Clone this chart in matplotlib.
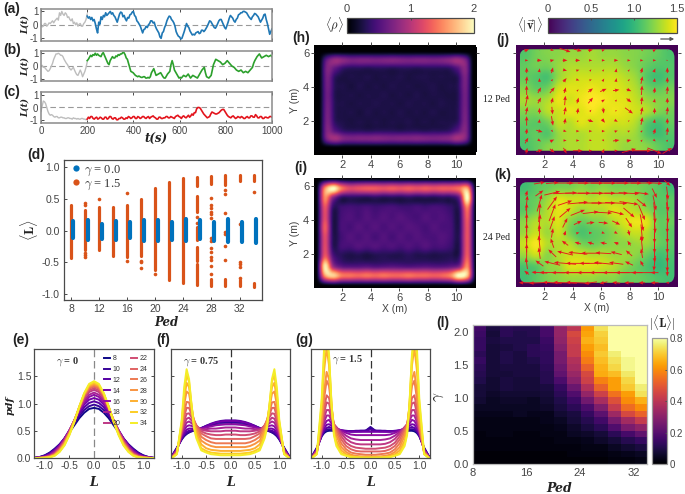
import numpy as np
import matplotlib
matplotlib.use("Agg")
import matplotlib.pyplot as plt
from matplotlib.lines import Line2D
from matplotlib.patches import FancyBboxPatch, FancyArrowPatch

plt.rcParams["font.family"] = ["Liberation Sans", "DejaVu Sans"]
plt.rcParams["mathtext.fontset"] = "cm"
plt.rcParams["axes.linewidth"] = 0.9

SERIF = "Liberation Serif"
TXT = "#444444"
EDGE = "#4a4a4a"

# time series, one value every 5 s. gray part is t<200, colored part t>=200
gray_a = [0, -.15, -.1, .1, .1, -.1, 0, .15, .1, .2, .3, .15, .3, .4, .5, .35, .9, .7, 1.0, .8, .7, .9, .8, .55, .6,
          .4, .3, .45, .1, .2, 0, .15, -.1, .05, .1, -.1, -.1, .1, .2, .4, .8]
color_a = [.65, .5, .6, .4, .55, .3, .4, .1, -.3, -.6, .2, .05, .6, .4, .7, .6, .9, .7, .8, .9, 1.0, .8, .9, .7, .6,
           .4, .2, .5, .8, .95, .9, .6, .7, .45, .3, .55, .5, .75, .8, .95, 1.0, .7, .6, .3, .2, .05, -.1, -.35, -.6,
           -.35, -.3, -.1, -.2, 0, .1, .3, .3, .15, .2, -.1, -.3, -.45, -.6, -.9, -1.0, -.6, -.5, -.2, 0, .3, .5, .65,
           .6, .4, .3, .15, -.1, -.5, -.7, -.85, -.9, -1.05, -1.0, -.75, -.5, -.2, .1, -.1, -.2, -.45, -.6, -.75, -.7,
           -.75, -.6, -.55, -.5, -.65, -.6, -.4, -.4, -.5, -.4, -.25, -.1, .1, .3, .25, .1, -.05, -.2, -.25, -.1, .1,
           .3, .4, .4, .2, 0, -.2, -.3, -.05, .2, .5, .7, .6, .5, .3, .2, .4, .5, .75, .8, .9, .9, 1.0, 1.0, .95, .9,
           .75, .6, .5, .4, .6, .7, .85, .8, .7, .6, .4, .2, .35, .5, .75, .8, .4, .1, -.3, -.7, -.5, -.3]
gray_b = [0, .05, -.1, -.1, -.2, -.3, -.4, -.35, -.2, 0, .2, .5, .7, .9, .9, .95, .9, .8, .8, .7, .5, .35, .2, .1, -.1,
          -.2, -.3, -.2, -.1, -.3, -.5, -.65, -.7, -.5, -.3, -.5, -.8, -.6, -.4, -.1, .3]
color_b = [.4, .5, .65, .8, .7, .85, .8, .95, .8, .9, .8, .75, .7, .9, 1.0, .8, .6, .4, .2, .1, .4, .55, .7, .6, .6, .75,
           .7, .85, .8, .9, .9, 1.0, 1.0, .85, .6, .5, .2, -.1, -.4, -.45, -.5, -.6, -.7, -.75, -.8, -.75, -.8, -.85,
           -.85, -.8, -.8, -.9, -.9, -.85, -.9, -.8, -.5, -.35, -.2, -.45, -.7, -.65, -.6, -.55, -.5, -.65, -.8, -.9,
           -.9, -.75, -.6, -.5, -.4, .1, .4, .1, -.3, -.45, -.6, -.75, -.9, -.85, -.9, -.8, -.7, -.75, -.8, -.7, -.6,
           -.75, -.9, -.8, -.7, -.75, -.8, -.85, -.9, -.75, -.6, -.45, -.3, -.2, -.1, -.5, -.8, -.85, -.9, -.8, -.7,
           -.3, .1, .3, .5, .45, .4, .35, .3, .2, .1, .15, .2, .3, .4, .3, .2, .1, 0, -.05, -.1, -.2, -.3, -.35, -.4,
           -.35, -.3, -.4, -.5, -.45, -.4, -.45, -.5, -.4, -.3, -.2, -.1, .2, .4, .55, .7, .8, .9, .75, .6, .65, .7,
           .75, .8, .75, .7, .75, .8, .7]
gray_c = [-.3, .1, .5, .45, .3, 0, -.3, -.5, -.6, -.55, -.6, -.7, -.75, -.7, -.7, -.8, -.8, -.75, -.75, -.8, -.8, -.85,
          -.85, -.8, -.8, -.85, -.85, -.9, -.8, -.85, -.85, -.9, -.85, -.9, -.9, -.85, -.85, -.9, -.9, -.95, -.9]
color_c = [-.9, -.75, -.85, -.7, -.7, -.85, -.9, -.8, -.75, -.9, -.85, -.75, -.8, -.9, -.9, -.75, -.75, -.9, -.85, -.7,
           -.7, -.85, -.9, -.8, -.8, -.95, -.95, -.85, -.85, -.75, -.8, -.9, -.9, -.8, -.85, -.7, -.75, -.85, -.8, -.7,
           -.7, -.85, -.85, -.7, -.75, -.85, -.8, -.7, -.7, -.8, -.85, -.75, -.7, -.85, -.75, -.7, -.65, -.75, -.8, -.9,
           -.9, -.75, -.75, -.85, -.85, -.8, -.8, -.7, -.7, -.8, -.8, -.7, -.75, -.8, -.85, -.7, -.65, -.6, -.7, -.75,
           -.85, -.7, -.65, -.75, -.8, -.7, -.6, -.75, -.65, -.5,
           -.6, -.4, -.4, -.1, 0, 0, -.05, -.2, -.35, -.5, -.6, -.7, -.8, -.75, -.7, -.5, -.35, -.4, -.45, -.5, -.5,
           -.45, -.4, -.3, -.2, -.15, -.15, -.3, -.45, -.6, -.7, -.75, -.8, -.7, -.65, -.75, -.85, -.8, -.7, -.75, -.8,
           -.7, -.75, -.85, -.85, -.75, -.7, -.8, -.8, -.65, -.65, -.75, -.75, -.55, -.65, -.8, -.8, -.7, -.7, -.85,
           -.85, -.75, -.75, -.8, -.8, -.7, -.7, -.75]
series_colors = ["#1f77b4", "#2ca02c", "#e3141c"]

# panel d
peds = [8, 10, 12, 14, 16, 18, 20, 22, 24, 26, 28, 30, 32, 34]
blue_lo = [-.11, -.14, -.13, -.14, -.12, -.16, -.17, -.15, -.16, -.13, -.17, -.18, -.18, -.19]
blue_hi = [.15, .17, .11, .15, .13, .17, .17, .14, .18, .16, .14, .18, .13, .19]
orange_ped = [8, 10, 12, 14, 16, 18, 20, 22, 24, 26, 26, 26, 26, 26, 28, 28, 30, 30, 32, 32, 34, 34]
orange_lo = [-.43, -.3, -.3, -.4, -.42, -.4, -.62, -.78, -.82, -.85, -.48, -.15, .3, .7, .74, -.87, .72, -.87, .78, -.87, .78, -.88]
orange_hi = [.4, .32, .37, .37, .4, .5, .67, .76, .82, -.52, -.25, .05, .55, .85, .86, -.76, .87, -.76, .87, -.78, .88, -.82]
dots_ped = [10, 10, 10, 10, 10, 12, 16, 16, 18, 18, 18, 20, 26, 26,
            28, 28, 28, 28, 28, 28, 28, 28, 28, 28, 28, 28, 28, 28,
            30, 30, 30, 30, 30, 30, 30, 32, 32, 32, 32, 32, 34]
dots_val = [-.35, -.38, -.42, .41, .43, .5, .59, -.48, -.47, -.5, -.58, -.68, .22, .12,
            .52, .4, .35, .3, .26, .2, -.12, -.16, -.27, -.33, -.41, -.46, -.55, -.68,
            .64, .58, .28, -.02, -.06, -.24, -.46, .11, -.5, -.53, -.57, -.74, .61]

# pdf curves, right half only, panels e f g are symmetric
grid_e = [0, .1, .2, .3, .4, .5, .6, .7, .8, .9, 1.0, 1.1, 1.2]
pdf_e = [
    [.92, .90, .83, .73, .60, .47, .35, .25, .17, .10, .05, .02, .005],
    [.98, .95, .88, .77, .63, .49, .36, .25, .16, .09, .045, .018, .004],
    [1.04, 1.01, .93, .81, .66, .50, .36, .24, .15, .08, .04, .015, .003],
    [1.10, 1.07, .98, .84, .68, .51, .36, .23, .14, .07, .03, .012, .002],
    [1.16, 1.12, 1.02, .87, .69, .51, .35, .22, .12, .06, .025, .008, .002],
    [1.20, 1.16, 1.05, .88, .69, .50, .34, .20, .11, .05, .02, .006, .001],
    [1.25, 1.21, 1.09, .90, .69, .49, .32, .19, .09, .04, .015, .004, .001],
    [1.28, 1.24, 1.11, .91, .69, .48, .30, .17, .08, .035, .012, .003, .001],
    [1.31, 1.27, 1.13, .92, .69, .47, .29, .16, .07, .03, .01, .002, 0],
    [1.33, 1.29, 1.15, .93, .68, .46, .28, .15, .065, .025, .008, .002, 0],
    [1.35, 1.31, 1.16, .93, .68, .45, .27, .14, .06, .02, .006, .001, 0],
    [1.37, 1.33, 1.17, .94, .67, .44, .25, .13, .05, .017, .005, .001, 0],
    [1.39, 1.34, 1.18, .94, .67, .43, .24, .12, .045, .015, .004, .001, 0],
    [1.41, 1.36, 1.19, .94, .66, .42, .23, .11, .04, .012, .003, 0, 0],
]
grid_fg = [0, .1, .2, .3, .4, .5, .6, .7, .75, .8, .85, .9, .95, 1.0, 1.1, 1.2]
pdf_f = [
    [.62, .62, .62, .61, .60, .58, .55, .52, .50, .49, .47, .44, .40, .34, .19, .04],
    [.66, .66, .65, .64, .62, .59, .55, .52, .50, .49, .47, .45, .41, .35, .18, .035],
    [.69, .69, .68, .66, .63, .59, .54, .52, .52, .51, .50, .48, .43, .36, .17, .03],
    [.68, .68, .67, .65, .62, .58, .54, .53, .54, .54, .54, .52, .46, .38, .16, .025],
    [.62, .62, .61, .60, .58, .56, .54, .55, .57, .59, .60, .58, .51, .41, .15, .02],
    [.56, .56, .55, .54, .54, .53, .53, .57, .60, .64, .67, .65, .56, .43, .14, .015],
    [.50, .50, .49, .49, .49, .50, .52, .59, .64, .69, .74, .72, .62, .46, .13, .01],
    [.43, .43, .42, .42, .43, .45, .49, .60, .67, .75, .82, .81, .68, .49, .12, .01],
    [.35, .35, .35, .35, .36, .40, .45, .60, .70, .80, .92, .92, .76, .52, .11, .008],
    [.27, .27, .27, .27, .29, .33, .39, .57, .70, .85, 1.02, 1.03, .84, .54, .10, .006],
    [.20, .20, .20, .20, .22, .26, .32, .52, .68, .92, 1.18, 1.22, .98, .58, .09, .005],
    [.13, .13, .13, .14, .15, .18, .25, .46, .65, .96, 1.30, 1.38, 1.08, .62, .08, .004],
    [.08, .08, .08, .09, .10, .13, .18, .40, .60, .98, 1.40, 1.52, 1.18, .66, .07, .003],
    [.05, .05, .05, .06, .07, .10, .14, .36, .55, .98, 1.45, 1.63, 1.30, .70, .07, .002],
]
pdf_g = [
    [.55, .50, .49, .49, .49, .49, .50, .50, .50, .50, .50, .49, .46, .40, .19, .03],
    [.57, .50, .50, .49, .49, .49, .50, .51, .51, .52, .53, .52, .48, .41, .18, .025],
    [.52, .50, .50, .50, .49, .50, .51, .52, .53, .55, .57, .55, .50, .42, .17, .02],
    [.48, .48, .48, .48, .48, .49, .51, .54, .56, .59, .62, .61, .54, .44, .16, .015],
    [.42, .42, .42, .42, .43, .46, .50, .55, .58, .63, .70, .68, .60, .46, .15, .012],
    [.33, .33, .33, .34, .36, .41, .48, .56, .60, .69, .78, .78, .66, .49, .14, .01],
    [.25, .25, .25, .26, .29, .35, .45, .57, .62, .74, .88, .88, .74, .51, .13, .008],
    [.17, .17, .18, .19, .22, .28, .40, .55, .62, .80, 1.00, 1.02, .83, .54, .12, .006],
    [.12, .12, .12, .13, .16, .22, .34, .52, .62, .85, 1.10, 1.15, .92, .58, .11, .005],
    [.06, .06, .07, .08, .10, .16, .27, .47, .60, .92, 1.32, 1.42, 1.10, .65, .10, .004],
    [.03, .03, .03, .04, .06, .11, .20, .41, .56, .95, 1.45, 1.58, 1.22, .70, .09, .003],
    [.015, .015, .02, .02, .04, .07, .14, .32, .50, .98, 1.70, 2.02, 1.62, .88, .08, .002],
    [.008, .008, .01, .015, .02, .05, .09, .26, .45, 1.0, 1.85, 2.2, 1.90, 1.0, .07, .002],
    [.005, .005, .006, .01, .015, .04, .07, .22, .42, 1.0, 1.9, 2.3, 2.05, 1.1, .07, .001],
]

# panel l, rows from gamma 2.0 down to 0.0, columns Ped 8..32
heat_l = [
    [.16, .09, .12, .11, .11, .17, .32, .40, .62, .74, .80, .80, .80],
    [.15, .08, .12, .10, .11, .17, .32, .46, .64, .71, .80, .80, .80],
    [.14, .09, .10, .10, .10, .15, .31, .44, .66, .70, .80, .80, .80],
    [.14, .08, .09, .10, .12, .14, .29, .42, .63, .68, .80, .80, .80],
    [.12, .08, .10, .09, .12, .13, .26, .42, .60, .70, .76, .80, .80],
    [.14, .08, .10, .09, .10, .13, .26, .38, .57, .68, .74, .78, .80],
    [.12, .08, .09, .09, .09, .12, .24, .36, .52, .66, .72, .78, .80],
    [.11, .08, .08, .09, .09, .11, .22, .33, .46, .65, .68, .75, .80],
    [.10, .07, .09, .08, .08, .11, .18, .30, .44, .58, .63, .72, .80],
    [.08, .07, .09, .08, .08, .09, .14, .24, .38, .52, .63, .70, .76],
    [.08, .06, .07, .07, .07, .08, .12, .19, .32, .44, .55, .63, .74],
    [.07, .05, .06, .06, .05, .07, .10, .15, .25, .36, .48, .60, .66],
    [.05, .05, .05, .05, .05, .06, .09, .12, .18, .28, .42, .54, .60],
    [.04, .04, .04, .05, .04, .04, .07, .09, .14, .21, .34, .46, .52],
    [.03, .03, .03, .03, .03, .04, .05, .08, .11, .16, .26, .35, .42],
    [.03, .03, .03, .03, .03, .03, .04, .06, .09, .12, .19, .27, .31],
    [.02, .03, .03, .02, .02, .03, .03, .05, .06, .08, .12, .17, .22],
    [.02, .02, .02, .02, .02, .02, .03, .03, .04, .06, .08, .11, .14],
    [.02, .02, .02, .02, .02, .02, .02, .02, .03, .03, .05, .07, .09],
    [.01, .01, .01, .01, .01, .01, .01, .02, .02, .02, .03, .04, .05],
    [.01, .01, .01, .01, .01, .01, .01, .01, .01, .01, .02, .02, .03],
]

# panels h i, density, read on a coarse grid (smoothed by imshow)
rho_h = [
    [0, .01, .02, .02, .02, .02, .02, .02, .02, .02, .02, .02, .02, .02, .02, .02, .02, .02, .01, 0],
    [.02, .62, .85, .78, .70, .72, .72, .70, .72, .74, .72, .70, .72, .72, .70, .72, .78, .88, .70, .02],
    [.02, .72, .55, .35, .30, .30, .28, .30, .30, .28, .30, .30, .28, .30, .30, .30, .32, .50, .76, .02],
    [.02, .68, .32, .24, .26, .25, .27, .24, .26, .25, .27, .24, .26, .27, .25, .26, .25, .30, .70, .02],
    [.02, .66, .30, .26, .23, .27, .24, .26, .24, .27, .25, .26, .24, .25, .27, .24, .26, .30, .68, .02],
    [.02, .64, .28, .25, .26, .24, .26, .25, .27, .24, .26, .24, .27, .24, .26, .25, .24, .28, .66, .02],
    [.02, .66, .30, .26, .24, .26, .25, .27, .25, .26, .24, .27, .25, .26, .24, .27, .25, .29, .66, .02],
    [.02, .68, .30, .25, .26, .23, .27, .24, .26, .24, .27, .24, .26, .24, .27, .24, .25, .30, .68, .02],
    [.02, .70, .33, .26, .24, .26, .24, .26, .24, .26, .25, .27, .24, .26, .24, .26, .26, .32, .70, .02],
    [.02, .74, .50, .34, .30, .30, .28, .30, .30, .30, .28, .30, .30, .28, .30, .30, .34, .52, .74, .02],
    [.02, .72, .90, .74, .70, .72, .72, .74, .72, .70, .72, .72, .74, .72, .70, .72, .76, .90, .72, .02],
    [0, .02, .04, .03, .03, .03, .03, .03, .03, .03, .03, .03, .03, .03, .03, .03, .03, .04, .02, 0],
]
rho_i = [
    [0, .02, .04, .03, .03, .03, .03, .03, .03, .03, .03, .03, .03, .03, .03, .03, .03, .04, .02, 0],
    [.05, 1.5, 2.0, 1.45, 1.2, 1.25, 1.3, 1.3, 1.25, 1.3, 1.25, 1.3, 1.25, 1.3, 1.25, 1.3, 1.3, 1.4, 1.6, .05],
    [.05, 1.5, .75, .32, .32, .3, .28, .32, .28, .3, .28, .32, .28, .3, .28, .32, .32, .6, 2.0, .05],
    [.05, 1.25, .35, .42, .45, .43, .47, .42, .45, .47, .43, .42, .46, .43, .47, .45, .38, .35, 1.45, .05],
    [.05, 1.2, .28, .45, .5, .45, .52, .47, .52, .48, .53, .48, .45, .52, .47, .5, .43, .3, 1.3, .05],
    [.05, 1.3, .28, .47, .45, .53, .48, .53, .47, .52, .48, .53, .5, .45, .52, .47, .45, .3, 1.25, .05],
    [.05, 1.2, .3, .43, .52, .47, .52, .45, .52, .45, .52, .47, .52, .48, .47, .52, .45, .32, 1.25, .05],
    [.05, 1.2, .32, .45, .45, .52, .48, .52, .47, .5, .45, .5, .45, .52, .45, .47, .4, .3, 1.25, .05],
    [.05, 1.3, .5, .32, .26, .28, .24, .28, .3, .28, .28, .32, .28, .28, .26, .28, .3, .34, 1.3, .05],
    [.05, 1.9, .85, .55, .5, .5, .52, .48, .5, .52, .5, .48, .5, .52, .5, .5, .55, .7, 1.5, .05],
    [.05, 1.55, 1.8, 1.45, 1.4, 1.35, 1.4, 1.35, 1.4, 1.35, 1.35, 1.4, 1.35, 1.35, 1.3, 1.35, 1.5, 2.0, 1.7, .05],
    [0, .03, .06, .05, .05, .05, .05, .05, .05, .05, .05, .05, .05, .05, .05, .05, .05, .06, .03, 0],
]

# panels j k, mean speed on a coarse grid
speed_j = [
    [1.1, 1.18, 1.22, 1.24, 1.27, 1.27, 1.3, 1.27, 1.27, 1.24, 1.22, 1.18, 1.14, 1.08],
    [1.14, 1.18, 1.18, 1.27, 1.32, 1.32, 1.32, 1.32, 1.32, 1.27, 1.22, 1.14, 1.1, 1.1],
    [1.14, 1.1, 1.07, 1.27, 1.36, 1.39, 1.39, 1.39, 1.39, 1.34, 1.27, 1.1, 1.04, 1.1],
    [1.22, 1.14, 1.18, 1.39, 1.43, 1.43, 1.46, 1.43, 1.43, 1.39, 1.32, 1.18, 1.14, 1.18],
    [1.3, 1.27, 1.32, 1.45, 1.4, 1.46, 1.5, 1.48, 1.44, 1.43, 1.36, 1.27, 1.22, 1.22],
    [1.22, 1.22, 1.34, 1.39, 1.45, 1.43, 1.48, 1.43, 1.46, 1.43, 1.39, 1.32, 1.22, 1.18],
    [1.14, 1.12, 1.18, 1.36, 1.34, 1.43, 1.39, 1.43, 1.39, 1.39, 1.32, 1.12, 1.06, 1.14],
    [1.1, 1.14, 1.1, 1.27, 1.32, 1.32, 1.36, 1.36, 1.32, 1.32, 1.27, 1.1, 1.04, 1.1],
    [1.08, 1.14, 1.22, 1.27, 1.32, 1.32, 1.36, 1.36, 1.32, 1.27, 1.27, 1.22, 1.14, 1.08],
]
speed_k = [
    [1.05, 1.12, 1.16, 1.2, 1.2, 1.24, 1.2, 1.24, 1.2, 1.2, 1.2, 1.16, 1.12, 1.05],
    [1.12, 1.16, 1.28, 1.42, 1.38, 1.38, 1.33, 1.38, 1.33, 1.33, 1.28, 1.16, 1.12, 1.12],
    [1.12, 1.2, 1.33, 1.44, 1.38, 1.28, 1.33, 1.33, 1.42, 1.38, 1.33, 1.24, 1.12, 1.12],
    [1.24, 1.33, 1.33, 1.42, 1.24, 1.16, 1.2, 1.24, 1.33, 1.42, 1.46, 1.42, 1.16, 1.16],
    [1.28, 1.38, 1.28, 1.38, 1.2, 1.08, 1.12, 1.16, 1.24, 1.33, 1.38, 1.33, 1.16, 1.12],
    [1.38, 1.48, 1.33, 1.33, 1.33, 1.2, 1.16, 1.2, 1.24, 1.24, 1.28, 1.28, 1.16, 1.12],
    [1.28, 1.38, 1.24, 1.33, 1.38, 1.38, 1.33, 1.33, 1.28, 1.28, 1.24, 1.16, 1.05, 1.08],
    [1.08, 1.12, 1.24, 1.28, 1.42, 1.42, 1.42, 1.38, 1.33, 1.24, 1.16, 1.08, 1.0, 1.05],
    [1.05, 1.12, 1.2, 1.24, 1.28, 1.28, 1.28, 1.24, 1.24, 1.16, 1.16, 1.12, 1.08, 1.05],
]

# arrows of panels j k
arrow_x = [.75, 1.65, 2.55, 3.45, 4.35, 5.25, 6.15, 7.05, 7.95, 8.85, 9.75, 10.65]
arrow_y = [6.15, 5.55, 4.97, 4.4, 3.8, 3.2, 2.6, 2.0, 1.4, .85, .25]
j_u = [
    [.3, 0, .2, .7, .5, .3, .2, 0, .1, -.1, .2, 0],
    [.2, .3, .25, .3, .3, .2, .2, .25, .2, .2, .2, .1],
    [0, .05, .1, .25, .2, .1, .1, .05, .1, .1, .1, 0],
    [.05, 0, .1, .2, .2, .15, .1, .05, .1, .1, .05, 0],
    [0, .2, .3, .1, .1, .3, .4, .4, .3, .05, .05, .05],
    [.15, .2, .1, .05, .1, .3, .2, .1, .3, .05, .05, 0],
    [.1, 0, .05, .1, .05, .1, .05, .1, .5, .1, 0, .05],
    [0, .05, .1, .05, .05, .35, .2, .2, .1, .1, .05, 0],
    [.05, .4, .1, .2, .2, .2, .2, .2, .15, .1, .1, .05],
    [.2, .2, .25, .2, .2, .15, .1, .4, .3, .1, .15, .1],
    [.1, .4, .3, .2, .6, .2, .1, .2, .9, 1.2, .9, .6],
]
j_v = [
    [.1, 0, -.05, -.2, -.1, .05, .05, 0, 0, .05, .1, 0],
    [0, 0, .05, 0, 0, 0, 0, 0, 0, 0, 0, 0],
    [.3, .2, .3, -.05, .05, .1, .1, .2, .1, .3, .2, .3],
    [.4, .2, .1, .2, -.05, .05, .15, .2, .1, .4, .2, .3],
    [.5, .3, .3, .3, .1, .2, .15, .05, -.1, .5, .3, .4],
    [.6, .3, .3, .5, .3, .3, .1, .1, -.2, .4, .2, .3],
    [.4, .3, -.4, .4, .3, .1, -.3, .05, -.3, .4, .3, .4],
    [.5, .2, -.5, .3, .1, -.1, -.2, -.1, .05, .4, .2, .3],
    [.3, -.1, -.1, -.05, 0, 0, 0, .05, .05, .1, .3, .4],
    [.3, -.1, .1, 0, 0, -.05, -.1, .05, .05, .1, -.1, .1],
    [.3, .1, -.2, -.3, 0, 0, .2, 0, .2, 0, -.3, .3],
]
k_u = [
    [0, .7, .8, 1.1, 1.4, 1.6, 1.6, 1.6, 1.6, 1.4, 1.0, .4],
    [.1, .5, 1.0, 1.5, 1.6, 1.6, 1.5, 1.5, 1.3, .9, .3, .1],
    [.1, .3, .6, .9, 1.3, 1.5, 1.5, 1.4, 1.2, .6, .2, .1],
    [0, .1, .4, .7, .9, 1.0, 1.1, 1.0, .7, .4, .1, .1],
    [0, .1, .3, .3, .5, .5, .6, .5, .4, .2, .1, 0],
    [0, 0, .1, .1, .2, .2, .2, .2, .1, .1, 0, 0],
    [0, -.1, -.2, -.4, -.4, -.4, -.4, -.3, -.2, -.1, 0, 0],
    [0, -.1, -.5, -1.0, -1.2, -1.2, -1.0, -.7, -.4, -.1, 0, 0],
    [-.1, -.5, -1.0, -1.4, -1.5, -1.4, -1.2, -.9, -.5, -.2, -.1, 0],
    [-.3, -1.0, -1.6, -1.7, -1.7, -1.7, -1.7, -1.7, -1.7, -1.3, -.5, 0],
    [-1.0, -1.3, -1.2, -1.5, -1.5, -.8, -.5, -.5, -.6, -.4, -.5, -.2],
]
k_v = [
    [0, .1, .05, 0, 0, 0, 0, 0, 0, 0, -.05, -.3],
    [.3, .3, .2, .05, 0, 0, 0, 0, -.05, -.1, -.5, -.7],
    [.8, .9, .7, .25, .1, 0, 0, -.05, -.15, -.4, -.8, -.9],
    [1, 1, .9, .5, .3, .1, -.05, -.2, -.5, -.8, -1.1, -1.1],
    [1, .9, .7, .5, .2, .05, -.05, -.2, -.5, -.9, -1.1, -1.1],
    [1, .9, .5, .25, .05, 0, -.05, -.1, -.3, -.9, -1.1, -1.1],
    [1, .8, .5, .25, .1, .1, .05, .1, .25, .8, -1.1, -1.1],
    [1, .6, .4, .2, .1, 0, .05, .15, .3, .5, -1, -1],
    [.6, .3, .2, .1, 0, 0, .1, .1, .2, .3, -.8, -.9],
    [.2, .05, .02, 0, 0, 0, 0, 0, 0, 0, 0, -.4],
    [0, -.05, .05, .05, .05, -.1, -.1, .05, 0, 0, 0, 0],
]

W, H = 685, 494
fig = plt.figure(figsize=(W / 100, H / 100), dpi=100)


def px_ax(x0, y0, x1, y1):
    return fig.add_axes([x0 / W, 1 - y1 / H, (x1 - x0) / W, (y1 - y0) / H])


def px_text(x, y, s, **kw):
    kw.setdefault("ha", "center")
    kw.setdefault("va", "center")
    return fig.text(x / W, 1 - y / H, s, **kw)


def tick_style(ax, size=7, **kw):
    ax.tick_params(labelsize=size, labelcolor=TXT, color=EDGE, length=2, width=0.7, pad=2, **kw)
    for s in ax.spines.values():
        s.set_color(EDGE)


def math_label(x, y, s, rotation=0, size=7.5):
    px_text(x, y, s, family="DejaVu Serif", weight="bold", style="italic", size=size, rotation=rotation, color="#222222")


for label, x, y in [("(a)", 12, 9), ("(b)", 12, 50), ("(c)", 12, 92), ("(d)", 36, 155), ("(e)", 21, 340),
                    ("(f)", 163, 340), ("(g)", 304, 340), ("(h)", 301, 38), ("(i)", 301, 168),
                    ("(j)", 503, 40), ("(k)", 503, 175), ("(l)", 443, 323)]:
    px_text(x, y, label, weight="bold", size=10, color="#222222")

# time series
boxes = [(9, 41, 1.18, -1.2), (51, 81, 1.12, -1.12), (92, 123, 1.2, -1.2)]
rows = [(gray_a, color_a), (gray_b, color_b), (gray_c, color_c)]
for (gray, vals), col, (top, bottom, ymax, ymin) in zip(rows, series_colors, boxes):
    ax = px_ax(41, top, 272, bottom)
    ax.axhline(0, color="#999999", lw=0.8, dashes=(5, 3))
    ax.plot(np.linspace(0, 200, len(gray)), gray, color="#bdbdbd", lw=1.0)
    ax.plot(np.linspace(200, 1000, len(vals)), vals, color=col, lw=1.2)
    ax.set_xlim(0, 1000)
    ax.set_ylim(ymin, ymax)
    ax.set_yticks([-1, 0, 1], ["-1", "0", "1"])
    ax.set_xticks([0, 200, 400, 600, 800, 1000])
    tick_style(ax, direction="in", top=True)
    ax.tick_params(labelbottom=bottom > 100)
    for s in ax.spines.values():
        s.set_color("#8a8a8a")
        s.set_linewidth(1.1)
    math_label(25, (top + bottom) / 2, "L(t)", rotation=90, size=6.5)
math_label(156, 139, "t(s)", size=8.5)

# panel d
ax = px_ax(64, 160, 262, 300)
ax.vlines(orange_ped, orange_lo, orange_hi, color="#d95319", lw=2.3, capstyle="round")
ax.plot(dots_ped, dots_val, "o", color="#d95319", ms=2.6, mew=0)
ax.vlines(np.array(peds) + 0.35, blue_lo, blue_hi, color="#0072bd", lw=3.0, capstyle="round")
ax.set_xlim(7, 35.2)
ax.set_ylim(-1.09, 1.11)
ax.set_xticks([8, 12, 16, 20, 24, 28, 32])
ax.set_yticks([-1, -.5, 0, .5, 1], ["-1.0", "-0.5", "0.0", "0.5", "1.0"])
tick_style(ax, size=7.5, direction="in")
ax.tick_params(pad=3)
handles = [Line2D([], [], ls="", marker="o", color="#0072bd", ms=4.5, mew=0),
           Line2D([], [], ls="", marker="o", color="#d95319", ms=4.5, mew=0)]
ax.legend(handles, [r"$\gamma$ = 0.0", r"$\gamma$ = 1.5"], loc="upper left", frameon=False, handletextpad=-0.1,
          handlelength=1.4, borderaxespad=0, borderpad=0.3, labelspacing=-0.05, prop={"family": SERIF, "size": 9},
          labelcolor="#333333")
px_text(29, 230, r"$\langle \mathbf{L} \rangle$", rotation=90, size=10, color="#222222")
math_label(166, 323, "Ped", size=8.5)

# panels e f g
plasma = plt.colormaps["plasma"]
pdf_boxes = [(34, 154, pdf_e, grid_e, r"$\gamma$ = 0", (68, 362), "#888888"),
             (171, 290, pdf_f, grid_fg, r"$\gamma$ = 0.75", (201, 362), "#333333"),
             (311, 430, pdf_g, grid_fg, r"$\gamma$ = 1.5", (348, 360), "#333333")]
for n, (x0, x1, curves, grid, title, pos, dash) in enumerate(pdf_boxes):
    ax = px_ax(x0, 349, x1, 458)
    grid = np.array(grid)
    x = np.r_[-grid[::-1], grid[1:]]
    ax.axvline(0, color=dash, lw=0.9, dashes=(6, 3))
    for i, half in enumerate(curves):
        half = np.array(half)
        y = np.r_[half[::-1], half[1:]]
        ax.plot(x, y, color=plasma(i / 13 * 0.97), lw=1.4, solid_joinstyle="round", label=str(peds[i]))
    ax.set_xlim(-1.22, 1.22)
    ax.set_ylim(0, 2.0)
    ax.set_xticks([-1, -.5, 0, .5, 1], ["-1.0", "-0.5", "0.0", "0.5", "1.0"])
    ax.set_yticks([0, .5, 1, 1.5])
    tick_style(ax, size=7.5, direction="in", right=True)
    ax.tick_params(labelleft=n == 0)
    if n == 0:
        ax.legend(ncol=2, loc="upper right", frameon=False, fontsize=5, handlelength=0.9, handletextpad=0.35,
                  columnspacing=1.5, labelspacing=0.55, borderaxespad=0.5, labelcolor="#333333")
    px_text(pos[0], pos[1], title, family=SERIF, weight="bold", size=7.5, color="#333333")
    math_label((x0 + x1) / 2, 482, "L", size=9)
math_label(10, 405, "pdf", rotation=90, size=7.5)

# panels h i
fields = [(45, 155, rho_h, (.045, 11.455, .18, 6.33), False), (178, 288, rho_i, (-.115, 11.685, -.147, 6.707), True)]
for top, bottom, rho, ext, with_xlabel in fields:
    ax = px_ax(314, top, 476, bottom)
    ax.set_facecolor("black")
    im_rho = ax.imshow(rho, cmap="magma", vmin=0, vmax=2, extent=ext, interpolation="catrom", aspect="auto")
    ax.set_xlim(0, 11.4)
    ax.set_ylim(0, 6.45)
    ax.set_xticks([2, 4, 6, 8, 10])
    ax.set_yticks([2, 4, 6])
    tick_style(ax, size=8, direction="out", top=True, right=True)
    ax.tick_params(pad=1.5, labelbottom=True)
    for s in ax.spines.values():
        s.set_visible(False)
    ax.set_ylabel("Y (m)", size=7.5, color=TXT, labelpad=2)
    if with_xlabel:
        ax.set_xlabel("X (m)", size=7.5, color=TXT, labelpad=1)

# panels j k
field_boxes = [(45, 155, speed_j, j_u, j_v, "12 Ped", 100, False), (178, 287, speed_k, k_u, k_v, "24 Ped", 237, True)]
for top, bottom, speed, u, v, name, name_y, with_xlabel in field_boxes:
    ax = px_ax(516, top, 678, bottom)
    ax.set_facecolor(plt.colormaps["viridis"](0.0))
    im_v = ax.imshow(speed, cmap="viridis", vmin=0, vmax=1.5, extent=(.25, 11.15, .25, 6.2), interpolation="catrom",
                     aspect="auto")
    clip = FancyBboxPatch((.6, .6), 10.2, 5.25, boxstyle="round,pad=0.35,rounding_size=0.5", transform=ax.transData,
                          facecolor="none", edgecolor="none")
    ax.add_patch(clip)
    im_v.set_clip_path(clip)
    ax.quiver(arrow_x, arrow_y, u, v, angles="xy", scale_units="xy", scale=0.9, pivot="mid", color="#e8141c",
              width=0.0055, headwidth=4, headlength=5, headaxislength=4.5, minlength=0.5)
    ax.set_xlim(0, 11.4)
    ax.set_ylim(0, 6.45)
    ax.set_xticks([2, 4, 6, 8, 10])
    ax.set_yticks([2, 4, 6])
    tick_style(ax, size=8, direction="out", top=True, right=True)
    ax.tick_params(pad=1.5, labelleft=False)
    for s in ax.spines.values():
        s.set_visible(False)
    if with_xlabel:
        ax.set_xlabel("X (m)", size=7.5, color=TXT, labelpad=1)
    px_text(496, name_y, name, family=SERIF, size=7, color="#222222")

# colorbars on top
cax = px_ax(347, 18, 474, 33)
fig.colorbar(im_rho, cax=cax, orientation="horizontal", ticks=[0, 1, 2])
cax.xaxis.set_ticks_position("top")
tick_style(cax, size=8, direction="in")
cax.tick_params(pad=3, length=1.5)
px_text(335, 25, r"$\langle \rho \rangle$", size=9, color="#222222")

cax = px_ax(548, 18, 677, 33)
fig.colorbar(im_v, cax=cax, orientation="horizontal", ticks=[0, .5, 1, 1.5])
cax.set_xticklabels(["0", "0.5", "1.0", "1.5"])
cax.xaxis.set_ticks_position("top")
tick_style(cax, size=8, direction="in")
cax.tick_params(pad=3, length=1.5)
px_text(530, 25, r"$\langle |\vec{\mathbf{v}}| \rangle$", size=9, color="#222222")

fig.add_artist(FancyArrowPatch((658 / W, 1 - 39 / H), (677 / W, 1 - 39 / H), transform=fig.transFigure,
                               arrowstyle="-|>", mutation_scale=5, color="#555555", lw=0.9))

# panel l
ax = px_ax(473, 325, 647, 464)
im_l = ax.imshow(heat_l, cmap="inferno", vmin=0, vmax=0.8, extent=(8, 34, 0, 2.1), aspect="auto",
                 interpolation="nearest")
ax.set_xticks([8, 16, 24, 32])
ax.set_yticks([0, .5, 1, 1.5, 2], ["0.0", "0.5", "1.0", "1.5", "2.0"])
tick_style(ax, size=8, direction="out")
ax.tick_params(length=0, pad=3)
for s in ax.spines.values():
    s.set_color("#bbbbbb")
math_label(559, 488, "Ped", size=9)
px_text(439, 397, r"$\gamma$", rotation=90, size=11, color="#222222")

cax = px_ax(652, 338, 667, 464)
fig.colorbar(im_l, cax=cax, ticks=[0, .2, .4, .6, .8])
cax.set_yticklabels(["0", "0.2", "0.4", "0.6", "0.8"])
tick_style(cax, size=7, direction="in")
cax.tick_params(length=1.5, pad=2)
for s in cax.spines.values():
    s.set_color("#999999")
px_text(662, 323, r"$|\langle \mathbf{L} \rangle|$", size=9, color="#222222")

fig.savefig("out.png", dpi=100)
